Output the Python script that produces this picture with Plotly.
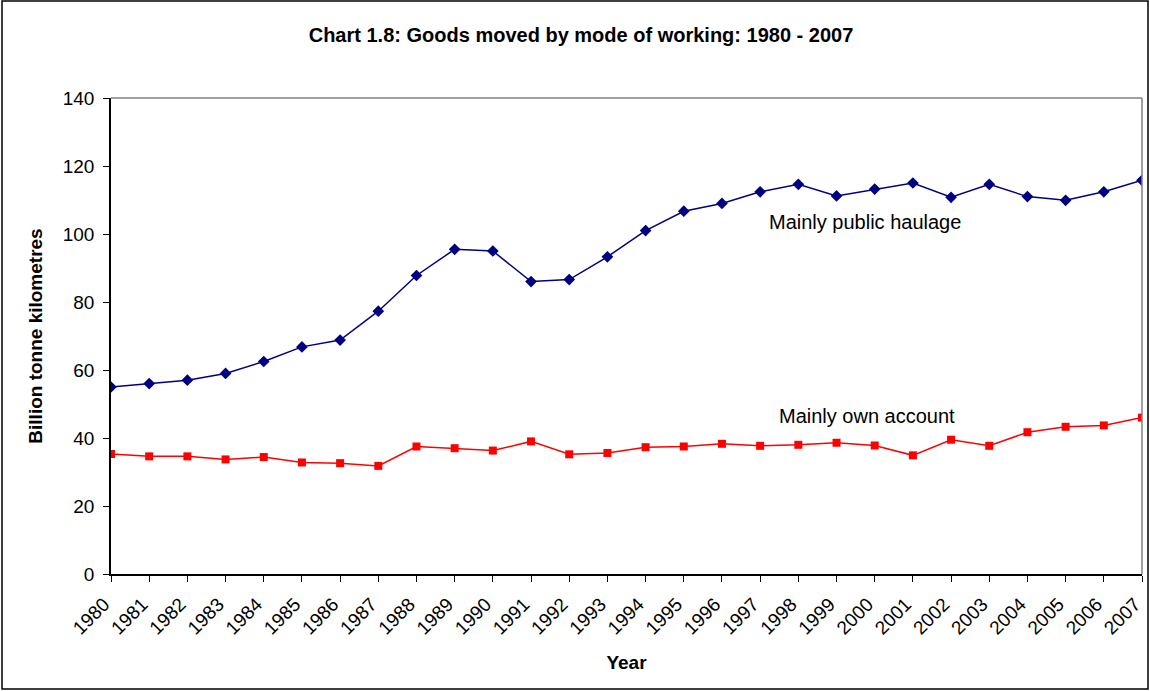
import plotly.graph_objects as go

years = [str(y) for y in range(1980, 2008)]
public_haulage = [55.0, 56.0, 57.0, 59.0, 62.5, 66.8, 68.8, 77.3, 87.8, 95.5, 95.0, 86.0, 86.6,
                  93.3, 101.0, 106.7, 109.0, 112.4, 114.6, 111.2, 113.2, 115.0, 110.8, 114.6,
                  111.0, 109.9, 112.4, 115.8]
own_account = [35.3, 34.6, 34.6, 33.7, 34.4, 32.8, 32.6, 31.8, 37.5, 37.0, 36.3, 39.0, 35.2,
               35.6, 37.3, 37.5, 38.3, 37.7, 38.0, 38.6, 37.8, 34.9, 39.5, 37.7, 41.7, 43.3,
               43.7, 46.0]

FONT = "Liberation Sans, Arial, sans-serif"

fig = go.Figure()
fig.add_trace(go.Scatter(x=years, y=public_haulage, mode="lines+markers",
                         line=dict(color="#000080", width=1.5),
                         marker=dict(symbol="diamond", size=9, color="#000080"),
                         name="Mainly public haulage"))
fig.add_trace(go.Scatter(x=years, y=own_account, mode="lines+markers",
                         line=dict(color="#FF0000", width=1.5),
                         marker=dict(symbol="square", size=8, color="#FF0000"),
                         name="Mainly own account"))

fig.add_annotation(xref="x", x=19.75, yref="y", y=103.5, text="Mainly public haulage", showarrow=False,
                   xanchor="center", yanchor="middle", font=dict(size=20, color="black", family=FONT))
fig.add_annotation(xref="x", x=19.8, yref="y", y=46.5, text="Mainly own account", showarrow=False,
                   xanchor="center", yanchor="middle", font=dict(size=20, color="black", family=FONT))

pw, ph = 1031, 476
fig.add_shape(type="rect", xref="paper", yref="paper",
              x0=(2 - 111) / pw, x1=(1148 - 111) / pw,
              y0=(574 - 689) / ph, y1=(574 - 1) / ph,
              line=dict(color="black", width=1.5), fillcolor="rgba(0,0,0,0)", layer="below")

fig.update_layout(
    width=1150, height=691,
    margin=dict(l=111, r=8, t=98, b=117, autoexpand=False),
    paper_bgcolor="white", plot_bgcolor="white",
    showlegend=False,
    font=dict(family=FONT, color="black"),
    title=dict(text="<b>Chart 1.8: Goods moved by mode of working: 1980 - 2007</b>",
               x=581 / 1150, xanchor="center", y=1 - 35 / 691, yanchor="middle",
               font=dict(size=20)),
    xaxis=dict(type="category", range=[0, 27], showline=True, linecolor="black", linewidth=1.5,
               mirror=False, ticks="outside", ticklen=6, tickcolor="black", automargin=False,
               tickangle=-45, tickfont=dict(size=19), showgrid=False, zeroline=False,
               ticklabelshift=-7, ticklabelstandoff=4,
               title=dict(text="<b>Year</b>", font=dict(size=19), standoff=18)),
    yaxis=dict(range=[0, 140], dtick=20, showline=True, linecolor="black", linewidth=1.5,
               ticks="outside", ticklen=6, tickcolor="black", tickfont=dict(size=19), automargin=False,
               showgrid=False, zeroline=False, ticklabelstandoff=5,
               title=dict(text="<b>Billion tonne kilometres</b>", font=dict(size=19), standoff=15)),
)
fig.add_shape(type="line", xref="paper", yref="paper", x0=0, x1=1, y0=1, y1=1,
              line=dict(color="#808080", width=1.5))
fig.add_shape(type="line", xref="paper", yref="paper", x0=1, x1=1, y0=0, y1=1,
              line=dict(color="#808080", width=1.5))

fig.write_html("out.html", config={"displayModeBar": False},
               post_script="document.body.style.margin='0px';")
